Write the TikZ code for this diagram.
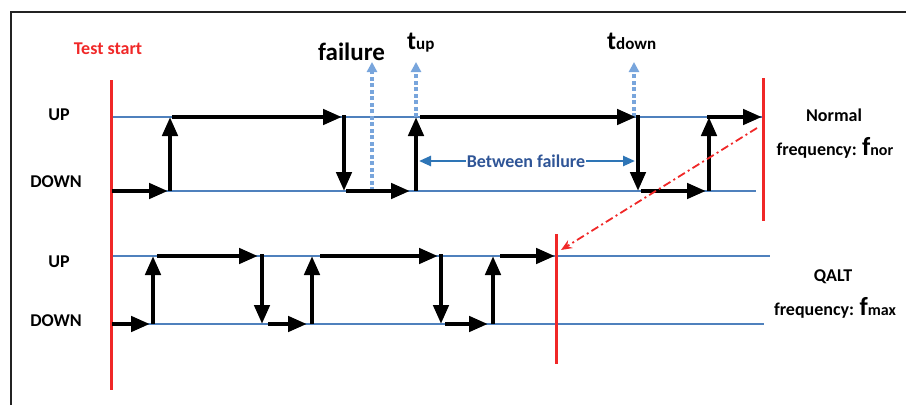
\documentclass[tikz,border=0pt]{standalone}
\usepackage{fontspec}
\setmainfont{Carlito}
\usetikzlibrary{arrows.meta}
\definecolor{ublue}{RGB}{79,129,189}
\definecolor{lblue}{RGB}{120,165,220}
\definecolor{bfblue}{RGB}{46,117,182}
\definecolor{bftext}{RGB}{47,85,151}
\definecolor{ured}{RGB}{240,40,40}
\definecolor{frame}{RGB}{35,35,35}
\begin{document}
\begin{tikzpicture}[x=1pt,y=-1pt,
  sig/.style={line width=4.5pt,-{Triangle[length=19pt,width=15pt]}},
  lvl/.style={ublue,line width=1.3pt},
  redline/.style={ured,line width=3pt},
  marker/.style={lblue,line width=3.2pt,dash pattern=on 4pt off 2.5pt,-{Triangle[length=10pt,width=10pt]}},
  lbl/.style={font=\fontsize{18}{20}\selectfont\bfseries,inner sep=0pt},
  big/.style={font=\fontsize{25}{28}\selectfont\bfseries,inner sep=0pt}]
\useasboundingbox (0,0) rectangle (906,405);
% frame
\coordinate (fr1) at (11,405);
\coordinate (fr2) at (11,12);
\coordinate (fr3) at (906,12);
\draw[frame,line width=2pt] (fr1) -- (fr2) -- (fr3);
% level lines
\coordinate (tU0) at (111,117); \coordinate (tU1) at (762,117);
\coordinate (tD0) at (111,191); \coordinate (tD1) at (756,191);
\coordinate (bU0) at (111,256); \coordinate (bU1) at (770,256);
\coordinate (bD0) at (111,324); \coordinate (bD1) at (764,324);
\draw[lvl] (tU0) -- (tU1);
\draw[lvl] (tD0) -- (tD1);
\draw[lvl] (bU0) -- (bU1);
\draw[lvl] (bD0) -- (bD1);
% red lines
\coordinate (rs0) at (111,80); \coordinate (rs1) at (111,390);
\coordinate (rn0) at (763,78); \coordinate (rn1) at (763,221);
\coordinate (rq0) at (556,234); \coordinate (rq1) at (556,364);
\draw[redline] (rs0) -- (rs1);
\draw[redline] (rn0) -- (rn1);
\draw[redline] (rq0) -- (rq1);
% labels
\node[lbl,text=ured] (ts) at (108,49) {Test start};
\node[lbl] (upT) at (59,115) {UP};
\node[lbl] (dnT) at (56,182) {DOWN};
\node[lbl] (upB) at (59,262) {UP};
\node[lbl] (dnB) at (56,321) {DOWN};
\node[lbl] (norm) at (834,115) {Normal};
\node[lbl,anchor=base] (fnor) at (835,155) {frequency: {\fontsize{26}{28}\selectfont f}{\fontsize{16}{18}\selectfont nor}};
\node[lbl] (qalt) at (833,277) {QALT};
\node[lbl,anchor=base] (fmax) at (835,315) {frequency: {\fontsize{26}{28}\selectfont f}{\fontsize{16}{18}\selectfont max}};
\node[big,anchor=base west] (fail) at (318,60) {failure};
\node[lbl,anchor=base west] (tup) at (407,49) {{\fontsize{26}{28}\selectfont t}{\fontsize{17}{18}\selectfont up}};
\node[lbl,anchor=base west] (tdown) at (607,49) {{\fontsize{26}{28}\selectfont t}{\fontsize{17}{18}\selectfont down}};
% marker arrows
\coordinate (m1a) at (372,191); \coordinate (m1b) at (372,62);
\coordinate (m2a) at (416,117); \coordinate (m2b) at (416,62);
\coordinate (m3a) at (634,117); \coordinate (m3b) at (634,62);
\draw[marker] (m1a) -- (m1b);
\draw[marker] (m2a) -- (m2b);
\draw[marker] (m3a) -- (m3b);
% top signal
\coordinate (a1) at (112,191); \coordinate (a2) at (168,191);
\coordinate (a3) at (170,191); \coordinate (a4) at (170,117);
\coordinate (a5) at (172,117); \coordinate (a6) at (342,117);
\coordinate (a7) at (344,115); \coordinate (a8) at (344,191);
\coordinate (a9) at (346,191); \coordinate (a10) at (410,191);
\coordinate (a11) at (416,191); \coordinate (a12) at (416,117);
\coordinate (a13) at (420,117); \coordinate (a14) at (636,117);
\coordinate (a15) at (638,115); \coordinate (a16) at (638,191);
\coordinate (a17) at (641,191); \coordinate (a18) at (706,191);
\coordinate (a19) at (709,191); \coordinate (a20) at (709,117);
\coordinate (a21) at (707,117); \coordinate (a22) at (762,117);
\draw[sig] (a1) -- (a2);
\draw[sig] (a3) -- (a4);
\draw[sig] (a5) -- (a6);
\draw[sig] (a7) -- (a8);
\draw[sig] (a9) -- (a10);
\draw[sig] (a11) -- (a12);
\draw[sig] (a13) -- (a14);
\draw[sig] (a15) -- (a16);
\draw[sig] (a17) -- (a18);
\draw[sig] (a19) -- (a20);
\draw[sig] (a21) -- (a22);
% bottom signal
\coordinate (b1) at (112,324); \coordinate (b2) at (150,324);
\coordinate (b3) at (153,324); \coordinate (b4) at (153,256);
\coordinate (b5) at (157,256); \coordinate (b6) at (258,256);
\coordinate (b7) at (262,254); \coordinate (b8) at (262,324);
\coordinate (b9) at (268,324); \coordinate (b10) at (307,324);
\coordinate (b11) at (312,324); \coordinate (b12) at (312,256);
\coordinate (b13) at (320,256); \coordinate (b14) at (438,256);
\coordinate (b15) at (441,254); \coordinate (b16) at (441,324);
\coordinate (b17) at (445,324); \coordinate (b18) at (488,324);
\coordinate (b19) at (493,324); \coordinate (b20) at (493,256);
\coordinate (b21) at (500,256); \coordinate (b22) at (555,256);
\draw[sig] (b1) -- (b2);
\draw[sig] (b3) -- (b4);
\draw[sig] (b5) -- (b6);
\draw[sig] (b7) -- (b8);
\draw[sig] (b9) -- (b10);
\draw[sig] (b11) -- (b12);
\draw[sig] (b13) -- (b14);
\draw[sig] (b15) -- (b16);
\draw[sig] (b17) -- (b18);
\draw[sig] (b19) -- (b20);
\draw[sig] (b21) -- (b22);
% between failure
\coordinate (bfL) at (419,161); \coordinate (bfR) at (635,161);
\draw[bfblue,line width=2.5pt,{Triangle[length=12pt,width=10pt]}-{Triangle[length=12pt,width=10pt]}] (bfL) -- (bfR);
\node[lbl,text=bftext,fill=white,inner xsep=1pt,inner ysep=2pt] (bf) at (526,161) {Between failure};
% red dash-dot
\coordinate (rd0) at (757,128); \coordinate (rd1) at (561,250);
\draw[ured,line width=1.8pt,dash pattern=on 8pt off 3.5pt on 2pt off 3.5pt,-{Stealth[length=11pt,width=9pt]}] (rd0) -- (rd1);
\end{tikzpicture}
\end{document}
